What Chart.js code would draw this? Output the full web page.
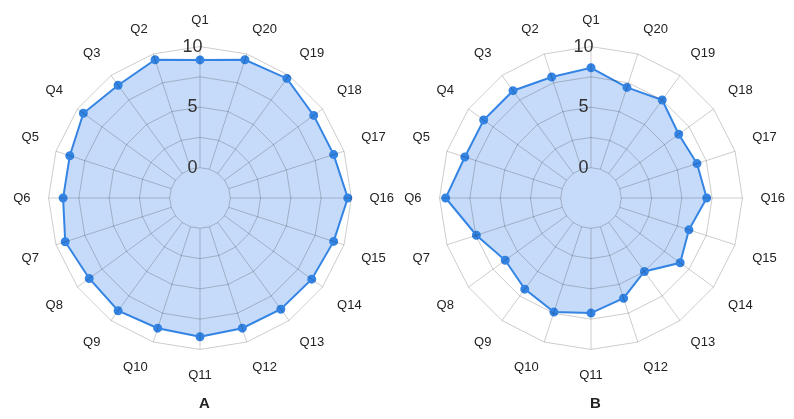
<!DOCTYPE html>
<html>
<head>
    <title>Radar A / B</title>
    <script src="https://cdn.jsdelivr.net/npm/chart.js"></script>
    <style>
        body {
            margin: 0;
            background: #fff;
            font-family: "Liberation Sans", Arial, sans-serif;
        }
        .row {
            position: relative;
            width: 794px;
            height: 419px;
        }
        .box {
            position: absolute;
            top: 0;
            width: 397px;
            height: 419px;
        }
        #boxA { left: 6px; }
        #boxB { left: 397px; }
    </style>
</head>
<body>
    <div class="row">
        <div class="box" id="boxA"><canvas id="chartA"></canvas></div>
        <div class="box" id="boxB"><canvas id="chartB"></canvas></div>
    </div>
    <script>
        // questions, in reading order Q1..Q20
        var questions = ['Q1','Q2','Q3','Q4','Q5','Q6','Q7','Q8','Q9','Q10',
                         'Q11','Q12','Q13','Q14','Q15','Q16','Q17','Q18','Q19','Q20'];
        var scoresA = [8.9, 9.5, 9.0, 9.4, 8.8, 8.8, 9.2, 8.8, 9.0, 8.8,
                       8.95, 8.8, 8.85, 8.9, 9.1, 9.7, 9.1, 9.1, 9.7, 9.5];
        var scoresB = [8.25, 8.0, 8.45, 8.45, 8.45, 9.5, 7.45, 6.25, 6.8, 7.4,
                       7.0, 6.2, 5.0, 6.6, 6.0, 7.05, 6.7, 6.45, 7.5, 7.1];
        var tickLabels = [0, 5, 10];

        // chart goes clockwise from the top, the picture goes Q1, Q20, Q19 ... Q2
        function clockwise(arr) {
            return [arr[0]].concat(arr.slice(1).reverse());
        }

        var lineColor = 'rgb(52, 132, 228)';
        var fillColor = 'rgba(66, 133, 234, 0.3)';

        function makeRadar(id, title, scores) {
            var ctx = document.getElementById(id).getContext('2d');
            return new Chart(ctx, {
                type: 'radar',
                data: {
                    labels: clockwise(questions),
                    datasets: [{
                        label: title,
                        data: clockwise(scores),
                        borderColor: lineColor,
                        backgroundColor: fillColor,
                        pointBackgroundColor: lineColor,
                        pointBorderColor: lineColor,
                        pointRadius: 3.5,
                        borderWidth: 2,
                        fill: 'start'
                    }]
                },
                options: {
                    responsive: true,
                    maintainAspectRatio: false,
                    animation: false,
                    layout: { padding: { top: 9, left: 5, right: 5, bottom: 0 } },
                    plugins: {
                        legend: { display: false },
                        tooltip: { enabled: false },
                        title: {
                            display: true,
                            text: title,
                            position: 'bottom',
                            color: '#222',
                            font: { family: 'Liberation Sans', size: 15, weight: 'bold' },
                            padding: { top: 6, bottom: 6 }
                        }
                    },
                    scales: {
                        r: {
                            min: -2.5,
                            max: 10,
                            beginAtZero: false,
                            grid: {
                                z: 1,
                                color: 'rgba(0, 0, 0, 0.2)',
                                lineWidth: 1
                            },
                            angleLines: {
                                color: 'rgba(0, 0, 0, 0.2)',
                                lineWidth: 1,
                                // spokes start at the "0" ring, not at the centre
                                borderDash: function(c) {
                                    var r0 = c.chart.scales.r.getDistanceFromCenterForValue(0);
                                    return [0, r0, 2000, 0];
                                }
                            },
                            ticks: {
                                z: 1,
                                stepSize: 2.5,
                                showLabelBackdrop: false,
                                color: '#333',
                                font: { family: 'Liberation Sans', size: 18 },
                                // trailing spaces nudge the centred label a bit left of the spoke
                                callback: function(v) {
                                    return tickLabels.indexOf(v) >= 0 ? v + '\u00a0\u00a0\u00a0' : '';
                                }
                            },
                            pointLabels: {
                                color: '#222',
                                padding: 7,
                                font: { family: 'Liberation Sans', size: 13 }
                            }
                        }
                    }
                }
            });
        }

        makeRadar('chartA', 'A', scoresA);
        makeRadar('chartB', 'B', scoresB);
    </script>
</body>
</html>
